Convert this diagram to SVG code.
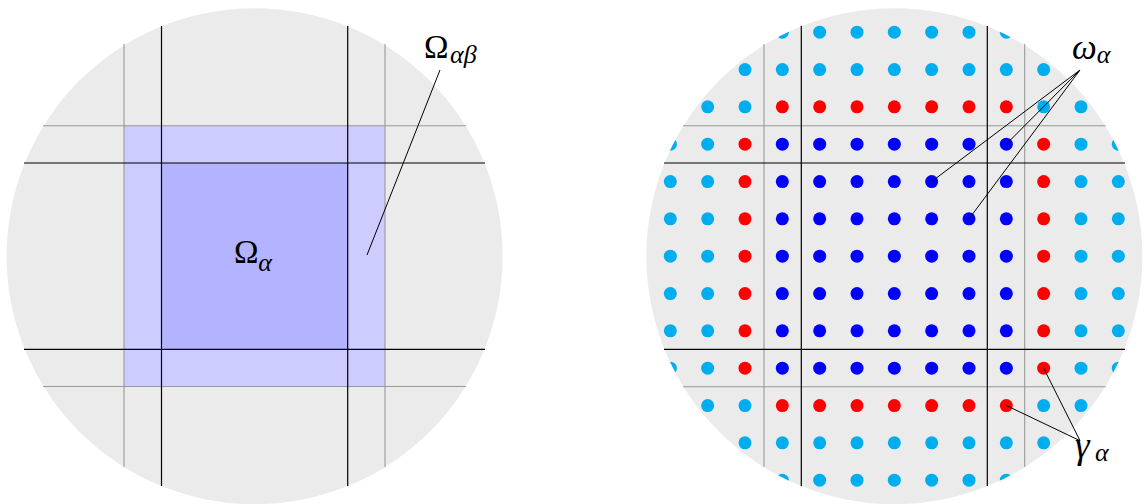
<svg xmlns="http://www.w3.org/2000/svg" width="1144" height="504" viewBox="0 0 1144 504">
<style>
.disk{fill:#ebebeb}
.g{stroke:#999999;stroke-width:1.1;fill:none}
.k{stroke:#000000;stroke-width:1.2;fill:none}
.lead{stroke:#000000;stroke-width:1;fill:none}
.c{fill:#00aeef}
.r{fill:#ff0000}
.b{fill:#0000ff}
.t{font-family:"Liberation Serif","DejaVu Serif",serif;font-size:33px;fill:#000}
.s{font-size:26px;font-style:italic}
.i{font-style:italic}
</style>
<defs>
<clipPath id="rc"><circle cx="894.33" cy="256.2" r="248"/></clipPath>
</defs>
<g id="left-domain">
<circle class="disk" cx="254.6" cy="256.2" r="248"/>
<rect x="124" y="125.7" width="261" height="261" fill="#ccccff"/>
<rect x="161.5" y="163" width="186.2" height="186.3" fill="#b3b3ff"/>
<line class="g" x1="124" y1="44" x2="124" y2="467"/>
<line class="g" x1="385" y1="44" x2="385" y2="467"/>
<line class="g" x1="43" y1="125.7" x2="466" y2="125.7"/>
<line class="g" x1="43" y1="386.5" x2="466" y2="386.5"/>
<line class="k" x1="161.5" y1="26" x2="161.5" y2="486"/>
<line class="k" x1="347.7" y1="26" x2="347.7" y2="486"/>
<line class="k" x1="24" y1="163" x2="485" y2="163"/>
<line class="k" x1="24" y1="349.3" x2="485" y2="349.3"/>
</g>
<g id="label-omega-a">
<text class="t" x="234" y="263.3">Ω<tspan class="s" x="258.3" y="270.7">α</tspan></text>
</g>
<g id="label-omega-ab">
<text class="t" x="424" y="58.3">Ω<tspan class="s" x="450" y="62.7">αβ</tspan></text>
</g>
<g id="right-domain">
<circle class="disk" cx="894.33" cy="256.2" r="248"/>
<line class="g" x1="764" y1="44" x2="764" y2="467"/>
<line class="g" x1="1024.7" y1="44" x2="1024.7" y2="467"/>
<line class="g" x1="683" y1="125.7" x2="1105.7" y2="125.7"/>
<line class="g" x1="683" y1="386.7" x2="1105.7" y2="386.7"/>
<line class="k" x1="801.3" y1="26" x2="801.3" y2="486"/>
<line class="k" x1="987.3" y1="26" x2="987.3" y2="486"/>
<line class="k" x1="664" y1="163" x2="1125" y2="163"/>
<line class="k" x1="664" y1="349.3" x2="1125" y2="349.3"/>
</g>
<g id="dots" clip-path="url(#rc)">
<circle class="c" cx="782.33" cy="32.2" r="6.5"/><circle class="c" cx="819.67" cy="32.2" r="6.5"/><circle class="c" cx="857" cy="32.2" r="6.5"/><circle class="c" cx="894.33" cy="32.2" r="6.5"/><circle class="c" cx="931.67" cy="32.2" r="6.5"/><circle class="c" cx="969" cy="32.2" r="6.5"/><circle class="c" cx="1006.33" cy="32.2" r="6.5"/>
<circle class="c" cx="745" cy="69.53" r="6.5"/><circle class="c" cx="782.33" cy="69.53" r="6.5"/><circle class="c" cx="819.67" cy="69.53" r="6.5"/><circle class="c" cx="857" cy="69.53" r="6.5"/><circle class="c" cx="894.33" cy="69.53" r="6.5"/><circle class="c" cx="931.67" cy="69.53" r="6.5"/><circle class="c" cx="969" cy="69.53" r="6.5"/><circle class="c" cx="1006.33" cy="69.53" r="6.5"/><circle class="c" cx="1043.67" cy="69.53" r="6.5"/>
<circle class="c" cx="707.67" cy="106.87" r="6.5"/><circle class="c" cx="745" cy="106.87" r="6.5"/><circle class="r" cx="782.33" cy="106.87" r="6.5"/><circle class="r" cx="819.67" cy="106.87" r="6.5"/><circle class="r" cx="857" cy="106.87" r="6.5"/><circle class="r" cx="894.33" cy="106.87" r="6.5"/><circle class="r" cx="931.67" cy="106.87" r="6.5"/><circle class="r" cx="969" cy="106.87" r="6.5"/><circle class="r" cx="1006.33" cy="106.87" r="6.5"/><circle class="c" cx="1043.67" cy="106.87" r="6.5"/><circle class="c" cx="1081" cy="106.87" r="6.5"/>
<circle class="c" cx="670.33" cy="144.2" r="6.5"/><circle class="c" cx="707.67" cy="144.2" r="6.5"/><circle class="r" cx="745" cy="144.2" r="6.5"/><circle class="b" cx="782.33" cy="144.2" r="6.5"/><circle class="b" cx="819.67" cy="144.2" r="6.5"/><circle class="b" cx="857" cy="144.2" r="6.5"/><circle class="b" cx="894.33" cy="144.2" r="6.5"/><circle class="b" cx="931.67" cy="144.2" r="6.5"/><circle class="b" cx="969" cy="144.2" r="6.5"/><circle class="b" cx="1006.33" cy="144.2" r="6.5"/><circle class="r" cx="1043.67" cy="144.2" r="6.5"/><circle class="c" cx="1081" cy="144.2" r="6.5"/><circle class="c" cx="1118.33" cy="144.2" r="6.5"/>
<circle class="c" cx="670.33" cy="181.53" r="6.5"/><circle class="c" cx="707.67" cy="181.53" r="6.5"/><circle class="r" cx="745" cy="181.53" r="6.5"/><circle class="b" cx="782.33" cy="181.53" r="6.5"/><circle class="b" cx="819.67" cy="181.53" r="6.5"/><circle class="b" cx="857" cy="181.53" r="6.5"/><circle class="b" cx="894.33" cy="181.53" r="6.5"/><circle class="b" cx="931.67" cy="181.53" r="6.5"/><circle class="b" cx="969" cy="181.53" r="6.5"/><circle class="b" cx="1006.33" cy="181.53" r="6.5"/><circle class="r" cx="1043.67" cy="181.53" r="6.5"/><circle class="c" cx="1081" cy="181.53" r="6.5"/><circle class="c" cx="1118.33" cy="181.53" r="6.5"/>
<circle class="c" cx="670.33" cy="218.87" r="6.5"/><circle class="c" cx="707.67" cy="218.87" r="6.5"/><circle class="r" cx="745" cy="218.87" r="6.5"/><circle class="b" cx="782.33" cy="218.87" r="6.5"/><circle class="b" cx="819.67" cy="218.87" r="6.5"/><circle class="b" cx="857" cy="218.87" r="6.5"/><circle class="b" cx="894.33" cy="218.87" r="6.5"/><circle class="b" cx="931.67" cy="218.87" r="6.5"/><circle class="b" cx="969" cy="218.87" r="6.5"/><circle class="b" cx="1006.33" cy="218.87" r="6.5"/><circle class="r" cx="1043.67" cy="218.87" r="6.5"/><circle class="c" cx="1081" cy="218.87" r="6.5"/><circle class="c" cx="1118.33" cy="218.87" r="6.5"/>
<circle class="c" cx="670.33" cy="256.2" r="6.5"/><circle class="c" cx="707.67" cy="256.2" r="6.5"/><circle class="r" cx="745" cy="256.2" r="6.5"/><circle class="b" cx="782.33" cy="256.2" r="6.5"/><circle class="b" cx="819.67" cy="256.2" r="6.5"/><circle class="b" cx="857" cy="256.2" r="6.5"/><circle class="b" cx="894.33" cy="256.2" r="6.5"/><circle class="b" cx="931.67" cy="256.2" r="6.5"/><circle class="b" cx="969" cy="256.2" r="6.5"/><circle class="b" cx="1006.33" cy="256.2" r="6.5"/><circle class="r" cx="1043.67" cy="256.2" r="6.5"/><circle class="c" cx="1081" cy="256.2" r="6.5"/><circle class="c" cx="1118.33" cy="256.2" r="6.5"/>
<circle class="c" cx="670.33" cy="293.53" r="6.5"/><circle class="c" cx="707.67" cy="293.53" r="6.5"/><circle class="r" cx="745" cy="293.53" r="6.5"/><circle class="b" cx="782.33" cy="293.53" r="6.5"/><circle class="b" cx="819.67" cy="293.53" r="6.5"/><circle class="b" cx="857" cy="293.53" r="6.5"/><circle class="b" cx="894.33" cy="293.53" r="6.5"/><circle class="b" cx="931.67" cy="293.53" r="6.5"/><circle class="b" cx="969" cy="293.53" r="6.5"/><circle class="b" cx="1006.33" cy="293.53" r="6.5"/><circle class="r" cx="1043.67" cy="293.53" r="6.5"/><circle class="c" cx="1081" cy="293.53" r="6.5"/><circle class="c" cx="1118.33" cy="293.53" r="6.5"/>
<circle class="c" cx="670.33" cy="330.87" r="6.5"/><circle class="c" cx="707.67" cy="330.87" r="6.5"/><circle class="r" cx="745" cy="330.87" r="6.5"/><circle class="b" cx="782.33" cy="330.87" r="6.5"/><circle class="b" cx="819.67" cy="330.87" r="6.5"/><circle class="b" cx="857" cy="330.87" r="6.5"/><circle class="b" cx="894.33" cy="330.87" r="6.5"/><circle class="b" cx="931.67" cy="330.87" r="6.5"/><circle class="b" cx="969" cy="330.87" r="6.5"/><circle class="b" cx="1006.33" cy="330.87" r="6.5"/><circle class="r" cx="1043.67" cy="330.87" r="6.5"/><circle class="c" cx="1081" cy="330.87" r="6.5"/><circle class="c" cx="1118.33" cy="330.87" r="6.5"/>
<circle class="c" cx="670.33" cy="368.2" r="6.5"/><circle class="c" cx="707.67" cy="368.2" r="6.5"/><circle class="r" cx="745" cy="368.2" r="6.5"/><circle class="b" cx="782.33" cy="368.2" r="6.5"/><circle class="b" cx="819.67" cy="368.2" r="6.5"/><circle class="b" cx="857" cy="368.2" r="6.5"/><circle class="b" cx="894.33" cy="368.2" r="6.5"/><circle class="b" cx="931.67" cy="368.2" r="6.5"/><circle class="b" cx="969" cy="368.2" r="6.5"/><circle class="b" cx="1006.33" cy="368.2" r="6.5"/><circle class="r" cx="1043.67" cy="368.2" r="6.5"/><circle class="c" cx="1081" cy="368.2" r="6.5"/><circle class="c" cx="1118.33" cy="368.2" r="6.5"/>
<circle class="c" cx="707.67" cy="405.53" r="6.5"/><circle class="c" cx="745" cy="405.53" r="6.5"/><circle class="r" cx="782.33" cy="405.53" r="6.5"/><circle class="r" cx="819.67" cy="405.53" r="6.5"/><circle class="r" cx="857" cy="405.53" r="6.5"/><circle class="r" cx="894.33" cy="405.53" r="6.5"/><circle class="r" cx="931.67" cy="405.53" r="6.5"/><circle class="r" cx="969" cy="405.53" r="6.5"/><circle class="r" cx="1006.33" cy="405.53" r="6.5"/><circle class="c" cx="1043.67" cy="405.53" r="6.5"/><circle class="c" cx="1081" cy="405.53" r="6.5"/>
<circle class="c" cx="745" cy="442.87" r="6.5"/><circle class="c" cx="782.33" cy="442.87" r="6.5"/><circle class="c" cx="819.67" cy="442.87" r="6.5"/><circle class="c" cx="857" cy="442.87" r="6.5"/><circle class="c" cx="894.33" cy="442.87" r="6.5"/><circle class="c" cx="931.67" cy="442.87" r="6.5"/><circle class="c" cx="969" cy="442.87" r="6.5"/><circle class="c" cx="1006.33" cy="442.87" r="6.5"/><circle class="c" cx="1043.67" cy="442.87" r="6.5"/>
<circle class="c" cx="782.33" cy="480.2" r="6.5"/><circle class="c" cx="819.67" cy="480.2" r="6.5"/><circle class="c" cx="857" cy="480.2" r="6.5"/><circle class="c" cx="894.33" cy="480.2" r="6.5"/><circle class="c" cx="931.67" cy="480.2" r="6.5"/><circle class="c" cx="969" cy="480.2" r="6.5"/><circle class="c" cx="1006.33" cy="480.2" r="6.5"/>
</g>
<g id="connectors">
<line class="lead" x1="440" y1="70" x2="367" y2="255"/>
<line class="lead" x1="1080" y1="70" x2="931.67" y2="181.53"/>
<line class="lead" x1="1080" y1="70" x2="1006.33" y2="144.2"/>
<line class="lead" x1="1080" y1="70" x2="969" y2="218.87"/>
<line class="lead" x1="1080" y1="440.7" x2="1006.33" y2="405.53"/>
<line class="lead" x1="1080" y1="440.7" x2="1043.67" y2="368.2"/>
</g>
<g id="label-omega-small">
<text class="t i" x="1072" y="59.3" style="font-size:35px">ω<tspan class="s" x="1096.7" y="63.3">α</tspan></text>
</g>
<g id="label-gamma">
<text class="t i" x="1075" y="458.3" style="font-size:37px">γ<tspan class="s" x="1095" y="461">α</tspan></text>
</g>
</svg>
